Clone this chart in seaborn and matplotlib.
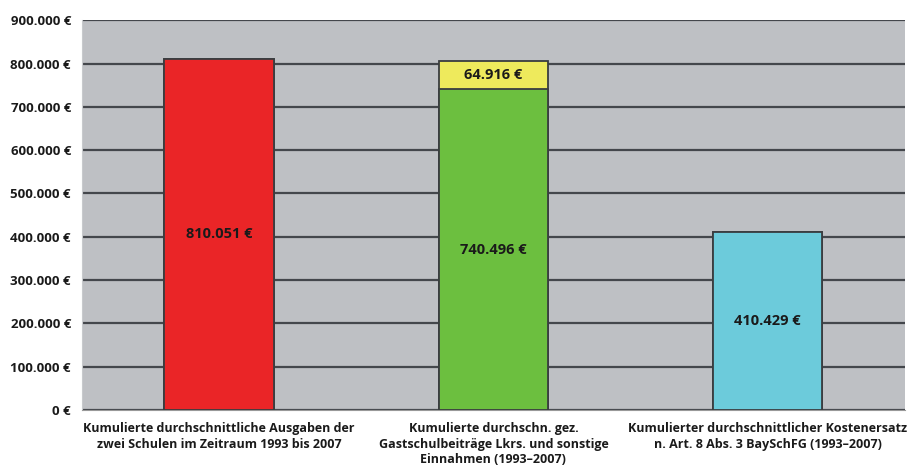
import matplotlib
matplotlib.use("Agg")
import pandas as pd
import seaborn as sns
import matplotlib.pyplot as plt
from matplotlib.ticker import FuncFormatter, FixedLocator

# Daten
kategorien = [
    "Kumulierte durchschnittliche Ausgaben der\nzwei Schulen im Zeitraum 1993 bis 2007",
    "Kumulierte durchschn. gez.\nGastschulbeiträge Lkrs. und sonstige\nEinnahmen (1993–2007)",
    "Kumulierter durchschnittlicher Kostenersatz\nn. Art. 8 Abs. 3 BaySchFG (1993–2007)",
]
basis = [810051, 740496, 410429]
zusatz = [0, 64916, 0]
farben_basis = ["#ea2527", "#6cbf3f", "#6ccbdb"]
farbe_zusatz = "#eeea5c"

sns.set_style("white")
plt.rcParams["font.family"] = ["Open Sans", "DejaVu Sans"]
plt.rcParams["font.weight"] = "bold"

gesamt = [b + z for b, z in zip(basis, zusatz)]
df_gesamt = pd.DataFrame({"kat": kategorien, "wert": gesamt})
df_basis = pd.DataFrame({"kat": kategorien, "wert": basis})

fig = plt.figure(figsize=(9.12, 4.70), dpi=100)
ax = fig.add_axes([0.09, 0.128, 0.902, 0.829])
ax.set_facecolor("#bec0c4")

# Gesamtbalken (oberes Segment gelb), dann Basis darüber
farben_gesamt = [farbe_zusatz if z > 0 else f for f, z in zip(farben_basis, zusatz)]
sns.barplot(data=df_gesamt, x="kat", y="wert", hue="kat", palette=farben_gesamt,
            order=kategorien, width=0.4, saturation=1, edgecolor="#3a3d40",
            linewidth=1.3, legend=False, ax=ax, zorder=3)
sns.barplot(data=df_basis, x="kat", y="wert", hue="kat", palette=farben_basis,
            order=kategorien, width=0.4, saturation=1, edgecolor="#3a3d40",
            linewidth=1.3, legend=False, ax=ax, zorder=4)

# Beschriftungen
for i, (b, z) in enumerate(zip(basis, zusatz)):
    txt = f"{b:,.0f} €".replace(",", ".")
    ax.text(i, b / 2, txt, ha="center", va="center", fontsize=10.5,
            fontweight="bold", color="#1a1a1a", zorder=5)
    if z > 0:
        ax.text(i, b + z / 2, f"{z:,.0f} €".replace(",", "."), ha="center",
                va="center", fontsize=10.5, fontweight="bold", color="#1a1a1a", zorder=5)

ax.set_ylim(0, 900000)
ax.set_xlim(-0.5, 2.5)
ax.yaxis.set_major_locator(FixedLocator(range(0, 900001, 100000)))
ax.yaxis.set_major_formatter(FuncFormatter(lambda v, p: f"{v:,.0f} €".replace(",", ".")))
ax.grid(axis="y", color="#44474c", linewidth=1.6, zorder=1)
ax.set_axisbelow(True)

ax.tick_params(axis="y", length=5, width=1.5, color="#44474c", labelsize=9.5, pad=3)
ax.tick_params(axis="x", length=0, labelsize=9, pad=9)
ax.xaxis.set_minor_locator(FixedLocator([0.5, 1.5, 2.5]))
ax.tick_params(axis="x", which="minor", length=5, color="#999999")
for lbl in ax.get_xticklabels() + ax.get_yticklabels():
    lbl.set_fontweight("bold")
    lbl.set_color("#1a1a1a")
for lbl in ax.get_xticklabels():
    lbl.set_linespacing(1.25)

ax.set_xlabel("")
ax.set_ylabel("")
for s in ["top", "right"]:
    ax.spines[s].set_visible(False)
ax.spines["left"].set_color("#c8cacd")
ax.spines["bottom"].set_color("#999999")

plt.savefig("out.png", dpi=100)
plt.close()
